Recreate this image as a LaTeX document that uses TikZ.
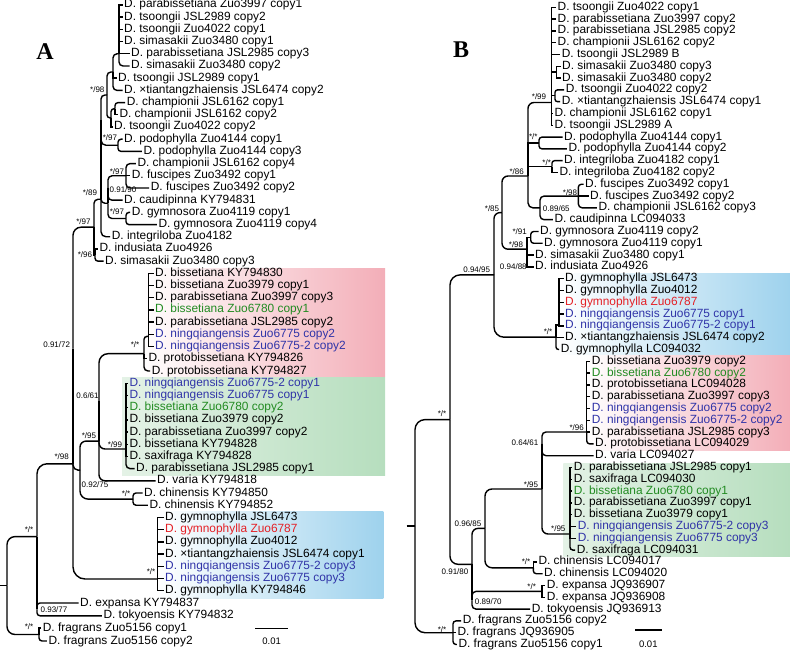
\documentclass[tikz,border=0pt]{standalone}
\usepackage{fontspec}
\setmainfont{Liberation Sans}
\newfontfamily\panelfont{Liberation Serif}
\usepackage{tikz}

\definecolor{ningblue}{RGB}{48,52,168}
\definecolor{bisgreen}{RGB}{34,139,34}
\definecolor{gymred}{RGB}{228,32,38}
\definecolor{boxred}{RGB}{243,174,184}
\definecolor{boxgreen}{RGB}{182,222,190}
\definecolor{boxgreenl}{RGB}{228,242,230}
\definecolor{boxblue}{RGB}{158,210,237}

\begin{document}
\begin{tikzpicture}[x=1pt, y=-1pt,
    leaf/.style={anchor=west, inner sep=1.5pt, text height=8.5pt, text depth=2.5pt, font=\fontsize{11.9}{12}\selectfont},
    supp/.style={inner sep=0pt, font=\fontsize{8}{9}\selectfont},
    br/.style={line width=1.4pt, rounded corners=#1}, br/.default=3pt,
    bz/.style={line width=1.4pt, sharp corners},
    panel/.style={font=\fontsize{24}{24}\panelfont\bfseries}]
    \useasboundingbox (0,0) rectangle (790,652);

    % clade boxes
    \shade[left color=white, right color=boxred] (140,268.3) rectangle (385,376.7);
    \shade[left color=boxgreenl, right color=boxgreen] (122,377.6) rectangle (385,475);
    \shade[left color=white, right color=boxblue] (157,511.7) rectangle (383.3,598.3);
    \shade[left color=white, right color=boxblue] (558,273.3) rectangle (790,354.6);
    \shade[left color=white, right color=boxred] (585,355.7) rectangle (790,450);
    \shade[left color=boxgreenl, right color=boxgreen] (563.3,463.3) rectangle (790,556.7);

    \node[panel] (labA) at (45,52) {A};
    \node[panel] (labB) at (461,50) {B};

    % Tree A - tips
    \node[leaf] (a1) at (122.5,5.0) {D. parabissetiana Zuo3997 copy1};
    \node[leaf] (a2) at (122.5,17.2) {D. tsoongii JSL2989 copy2};
    \node[leaf] (a3) at (122.5,29.4) {D. tsoongii Zuo4022 copy1};
    \node[leaf] (a4) at (122.5,41.6) {D. simasakii Zuo3480 copy1};
    \node[leaf] (a5) at (129.5,53.8) {D. parabissetiana JSL2985 copy3};
    \node[leaf] (a6) at (129.5,66.0) {D. simasakii Zuo3480 copy2};
    \node[leaf] (a7) at (116.5,78.2) {D. tsoongii JSL2989 copy1};
    \node[leaf] (a8) at (122.5,90.4) {D. ×tiantangzhaiensis JSL6474 copy2};
    \node[leaf] (a9) at (125.2,102.6) {D. championii JSL6162 copy1};
    \node[leaf] (a10) at (117.8,114.8) {D. championii JSL6162 copy2};
    \node[leaf] (a11) at (112.5,127.0) {D. tsoongii Zuo4022 copy2};
    \node[leaf] (a12) at (122.5,139.2) {D. podophylla Zuo4144 copy1};
    \node[leaf] (a13) at (141.8,151.4) {D. podophylla Zuo4144 copy3};
    \node[leaf] (a14) at (135.8,163.6) {D. championii JSL6162 copy4};
    \node[leaf] (a15) at (130.2,175.8) {D. fuscipes Zuo3492 copy1};
    \node[leaf] (a16) at (149.2,188.0) {D. fuscipes Zuo3492 copy2};
    \node[leaf] (a17) at (122.5,200.2) {D. caudipinna KY794831};
    \node[leaf] (a18) at (130.2,212.4) {D. gymnosora Zuo4119 copy1};
    \node[leaf] (a19) at (156.8,224.6) {D. gymnosora Zuo4119 copy4};
    \node[leaf] (a20) at (110.2,236.8) {D. integriloba Zuo4182};
    \node[leaf] (a21) at (97.8,249.0) {D. indusiata Zuo4926};
    \node[leaf] (a22) at (103.5,261.2) {D. simasakii Zuo3480 copy3};
    \node[leaf] (a23) at (153.5,273.4) {D. bissetiana KY794830};
    \node[leaf] (a24) at (153.5,285.6) {D. bissetiana Zuo3979 copy1};
    \node[leaf] (a25) at (153.5,297.8) {D. parabissetiana Zuo3997 copy3};
    \node[leaf, text=bisgreen] (a26) at (153.5,310.0) {D. bissetiana Zuo6780 copy1};
    \node[leaf] (a27) at (153.5,322.2) {D. parabissetiana JSL2985 copy2};
    \node[leaf, text=ningblue] (a28) at (153.5,334.4) {D. ningqiangensis Zuo6775 copy2};
    \node[leaf, text=ningblue] (a29) at (153.5,346.6) {D. ningqiangensis Zuo6775-2 copy2};
    \node[leaf] (a30) at (146.8,358.8) {D. protobissetiana KY794826};
    \node[leaf] (a31) at (150.2,371.0) {D. protobissetiana KY794827};
    \node[leaf, text=ningblue] (a32) at (127.8,383.2) {D. ningqiangensis Zuo6775-2 copy1};
    \node[leaf, text=ningblue] (a33) at (127.8,395.4) {D. ningqiangensis Zuo6775 copy1};
    \node[leaf, text=bisgreen] (a34) at (127.8,407.6) {D. bissetiana Zuo6780 copy2};
    \node[leaf] (a35) at (127.8,419.8) {D. bissetiana Zuo3979 copy2};
    \node[leaf] (a36) at (127.8,432.0) {D. parabissetiana Zuo3997 copy2};
    \node[leaf] (a37) at (127.8,444.2) {D. bissetiana KY794828};
    \node[leaf] (a38) at (127.8,456.4) {D. saxifraga KY794828};
    \node[leaf] (a39) at (134.5,468.6) {D. parabissetiana JSL2985 copy1};
    \node[leaf] (a40) at (155.5,480.8) {D. varia KY794818};
    \node[leaf] (a41) at (142.5,493.0) {D. chinensis KY794850};
    \node[leaf] (a42) at (147.8,505.2) {D. chinensis KY794852};
    \node[leaf] (a43) at (163.5,517.4) {D. gymnophylla JSL6473};
    \node[leaf, text=gymred] (a44) at (163.5,529.6) {D. gymnophylla Zuo6787};
    \node[leaf] (a45) at (163.5,541.8) {D. gymnophylla Zuo4012};
    \node[leaf] (a46) at (163.5,554.0) {D. ×tiantangzhaiensis JSL6474 copy1};
    \node[leaf, text=ningblue] (a47) at (163.5,566.2) {D. ningqiangensis Zuo6775-2 copy3};
    \node[leaf, text=ningblue] (a48) at (163.5,578.4) {D. ningqiangensis Zuo6775 copy3};
    \node[leaf] (a49) at (163.5,590.6) {D. gymnophylla KY794846};
    \node[leaf] (a50) at (78.5,603.0) {D. expansa KY794837};
    \node[leaf] (a51) at (101.8,615.8) {D. tokyoensis KY794832};
    \node[leaf] (a52) at (41.2,628.0) {D. fragrans Zuo5156 copy1};
    \node[leaf] (a53) at (46.8,641.0) {D. fragrans Zuo5156 copy2};

    % Tree A - inner nodes
    \coordinate (a-n1) at (119,53.8);
    \coordinate (a-n3) at (113,72);
    \coordinate (a-n4a) at (115,108.7);
    \coordinate (a-n4) at (111,117.9);
    \coordinate (a-n2) at (107,95);
    \coordinate (a-pod) at (118,145.3);
    \coordinate (a-n5) at (101,120.15);
    \coordinate (a-fus) at (126,175.8);
    \coordinate (a-cau) at (108,188);
    \coordinate (a-gym) at (126,218.5);
    \coordinate (a-n7) at (108,203.3);
    \coordinate (a-n6a) at (101,161.7);
    \coordinate (a-n6) at (101,199.3);
    \coordinate (a-ind) at (95,255.1);
    \coordinate (a-u) at (94,227.2);
    \coordinate (a-r0) at (148.3,336.4);
    \coordinate (a-red) at (144,353.7);
    \coordinate (a-gr0) at (126,429.4);
    \coordinate (a-grn) at (126,449);
    \coordinate (a-rg) at (99,401.4);
    \coordinate (a-x) at (99,441.1);
    \coordinate (a-chi) at (133,499.1);
    \coordinate (a-w) at (80,470.1);
    \coordinate (a-k) at (73,348.65);
    \coordinate (a-blu) at (157.5,579);
    \coordinate (a-m) at (73,463.8);
    \coordinate (a-exp) at (37,609.4);
    \coordinate (a-r1) at (37,536.6);
    \coordinate (a-fra) at (39,634.5);
    \coordinate (a-root) at (7,585.6);
    \coordinate (a-stem) at (0,585.6);

    % Tree A - branches
    \draw[bz] (a-n1) |- (a1.west);
    \draw[bz] (a-n1) |- (a2.west);
    \draw[bz] (a-n1) |- (a3.west);
    \draw[bz] (a-n1) |- (a4.west);
    \draw[bz] (a-n1) |- (a5.west);
    \draw[br=4pt] (a-n1) |- (a6.west);
    \draw[br=4pt] (a-n3) |- (a-n1);
    \draw[bz] (a-n3) |- (a7.west);
    \draw[br=4pt] (a-n3) |- (a8.west);
    \draw[br] (a-n4a) |- (a9.west);
    \draw[bz] (a-n4a) |- (a10.west);
    \draw[br] (a-n4) |- (a-n4a);
    \draw[bz] (a-n4) |- (a11.west);
    \draw[br=4pt] (a-n2) |- (a-n3);
    \draw[br] (a-n2) |- (a-n4);
    \draw[br] (a-pod) |- (a12.west);
    \draw[br] (a-pod) |- (a13.west);
    \draw[br=4pt] (a-n5) |- (a-n2);
    \draw[br=5pt] (a-n5) |- (a-pod);
    \draw[br=4pt] (a-fus) |- (a14.west);
    \draw[bz] (a-fus) |- (a15.west);
    \draw[br=4pt] (a-fus) |- (a16.west);
    \draw[br=4pt] (a-cau) |- (a-fus);
    \draw[br=4pt] (a-cau) |- (a17.west);
    \draw[br] (a-gym) |- (a18.west);
    \draw[br] (a-gym) |- (a19.west);
    \draw[bz] (a-n7) |- (a-cau);
    \draw[br=4pt] (a-n7) |- (a-gym);
    \draw[bz] (a-n6a) |- (a-n5);
    \draw[br=4pt] (a-n6a) |- (a-n7);
    \draw[bz] (a-n6) |- (a-n6a);
    \draw[br=5pt] (a-n6) |- (a20.west);
    \draw[bz] (a-ind) |- (a21.west);
    \draw[br] (a-ind) |- (a22.west);
    \draw[br=4pt] (a-u) |- (a-n6);
    \draw[bz] (a-u) |- (a-ind);
    \draw[bz] (a-r0) |- (a23.west);
    \draw[bz] (a-r0) |- (a24.west);
    \draw[bz] (a-r0) |- (a25.west);
    \draw[bz] (a-r0) |- (a26.west);
    \draw[bz] (a-r0) |- (a27.west);
    \draw[bz] (a-r0) |- (a28.west);
    \draw[bz] (a-r0) |- (a29.west);
    \draw[br] (a-red) |- (a-r0);
    \draw[bz] (a-red) |- (a30.west);
    \draw[br=4pt] (a-red) |- (a31.west);
    \draw[bz] (a-gr0) |- (a32.west);
    \draw[bz] (a-gr0) |- (a33.west);
    \draw[bz] (a-gr0) |- (a34.west);
    \draw[bz] (a-gr0) |- (a35.west);
    \draw[bz] (a-gr0) |- (a36.west);
    \draw[bz] (a-gr0) |- (a37.west);
    \draw[bz] (a-gr0) |- (a38.west);
    \draw[bz] (a-grn) |- (a-gr0);
    \draw[br=4pt] (a-grn) |- (a39.west);
    \draw[br=9pt] (a-rg) |- (a-red);
    \draw[br=6pt] (a-rg) |- (a-grn);
    \draw[bz] (a-x) |- (a-rg);
    \draw[br=6pt] (a-x) |- (a40.west);
    \draw[br] (a-chi) |- (a41.west);
    \draw[br] (a-chi) |- (a42.west);
    \draw[br=6pt] (a-w) |- (a-x);
    \draw[br=8pt] (a-w) |- (a-chi);
    \draw[br=8pt] (a-k) |- (a-u);
    \draw[br=5pt] (a-k) |- (a-w);
    \draw[bz] (a-blu) |- (a43.west);
    \draw[bz] (a-blu) |- (a44.west);
    \draw[bz] (a-blu) |- (a45.west);
    \draw[bz] (a-blu) |- (a46.west);
    \draw[bz] (a-blu) |- (a47.west);
    \draw[bz] (a-blu) |- (a48.west);
    \draw[bz] (a-blu) |- (a49.west);
    \draw[bz] (a-m) |- (a-k);
    \draw[br=12pt] (a-m) |- (a-blu);
    \draw[br] (a-exp) |- (a50.west);
    \draw[br] (a-exp) |- (a51.west);
    \draw[br=10pt] (a-r1) |- (a-m);
    \draw[bz] (a-r1) |- (a-exp);
    \draw[bz] (a-fra) |- (a52.west);
    \draw[br] (a-fra) |- (a53.west);
    \draw[br=8pt] (a-root) |- (a-r1);
    \draw[br=8pt] (a-root) |- (a-fra);
    \draw[bz] (a-stem) -- (a-root);

    % Tree A - support values
    \node[supp] (sa1) at (97.3,90) {*/98};
    \node[supp] (sa2) at (110,138) {*/97};
    \node[supp] (sa3) at (117,171.5) {*/97};
    \node[supp] (sa4) at (123,190) {0.91/90};
    \node[supp] (sa5) at (117,212) {*/97};
    \node[supp] (sa6) at (90,193) {*/89};
    \node[supp] (sa7) at (83.5,222) {*/97};
    \node[supp] (sa8) at (85,255) {*/96};
    \node[supp] (sa9) at (56.7,345) {0.91/72};
    \node[supp] (sa10) at (135,345) {*/*};
    \node[supp] (sa11) at (87.5,396) {0.6/61};
    \node[supp] (sa12) at (115,444.5) {*/99};
    \node[supp] (sa13) at (89,436) {*/95};
    \node[supp] (sa14) at (126,494) {*/*};
    \node[supp] (sa15) at (95,485) {0.92/75};
    \node[supp] (sa16) at (61.7,457) {*/98};
    \node[supp] (sa17) at (151,572) {*/*};
    \node[supp] (sa18) at (54,609.5) {0.93/77};
    \node[supp] (sa19) at (29,530) {*/*};
    \node[supp] (sa20) at (29,627) {*/*};

    % Tree A - scale
    \coordinate (sa-l) at (255,628.3);
    \coordinate (sa-r) at (288.3,628.3);
    \draw[bz] (sa-l) -- (sa-r);
    \node[font=\fontsize{9.5}{10}\selectfont] (sa-t) at (271.7,641.7) {0.01};

    % Tree B - tips
    \node[leaf] (b1) at (556,7.3) {D. tsoongii Zuo4022 copy1};
    \node[leaf] (b2) at (556,19.1) {D. parabissetiana Zuo3997 copy2};
    \node[leaf] (b3) at (556,30.9) {D. parabissetiana JSL2985 copy2};
    \node[leaf] (b4) at (556,42.7) {D. championii JSL6162 copy2};
    \node[leaf] (b5) at (560.2,54.5) {D. tsoongii JSL2989 B};
    \node[leaf] (b6) at (560.5,66.3) {D. simasakii Zuo3480 copy3};
    \node[leaf] (b7) at (560.5,78.1) {D. simasakii Zuo3480 copy2};
    \node[leaf] (b8) at (564.2,89.9) {D. tsoongii Zuo4022 copy2};
    \node[leaf] (b9) at (560.2,101.7) {D. ×tiantangzhaiensis JSL6474 copy1};
    \node[leaf] (b10) at (552.8,113.5) {D. championii JSL6162 copy1};
    \node[leaf] (b11) at (552.8,125.3) {D. tsoongii JSL2989 A};
    \node[leaf] (b12) at (562.5,137.1) {D. podophylla Zuo4144 copy1};
    \node[leaf] (b13) at (566.8,148.9) {D. podophylla Zuo4144 copy2};
    \node[leaf] (b14) at (562.5,160.7) {D. integriloba Zuo4182 copy1};
    \node[leaf] (b15) at (557.8,172.5) {D. integriloba Zuo4182 copy2};
    \node[leaf] (b16) at (583.5,184.3) {D. fuscipes Zuo3492 copy1};
    \node[leaf] (b17) at (588.5,196.1) {D. fuscipes Zuo3492 copy2};
    \node[leaf] (b18) at (596.8,207.9) {D. championii JSL6162 copy3};
    \node[leaf] (b19) at (552.8,219.7) {D. caudipinna LC094033};
    \node[leaf] (b20) at (538.5,231.5) {D. gymnosora Zuo4119 copy2};
    \node[leaf] (b21) at (542.5,243.3) {D. gymnosora Zuo4119 copy1};
    \node[leaf] (b22) at (533.5,255.1) {D. simasakii Zuo3480 copy1};
    \node[leaf] (b23) at (533.5,266.9) {D. indusiata Zuo4926};
    \node[leaf] (b24) at (563.5,278.7) {D. gymnophylla JSL6473};
    \node[leaf] (b25) at (563.5,290.5) {D. gymnophylla Zuo4012};
    \node[leaf, text=gymred] (b26) at (563.5,302.3) {D. gymnophylla Zuo6787};
    \node[leaf, text=ningblue] (b27) at (563.5,314.1) {D. ningqiangensis Zuo6775 copy1};
    \node[leaf, text=ningblue] (b28) at (563.5,325.9) {D. ningqiangensis Zuo6775-2 copy1};
    \node[leaf] (b29) at (563.5,337.7) {D. ×tiantangzhaiensis JSL6474 copy2};
    \node[leaf] (b30) at (559.2,349.5) {D. gymnophylla LC094032};
    \node[leaf] (b31) at (590.2,361.3) {D. bissetiana Zuo3979 copy2};
    \node[leaf, text=bisgreen] (b32) at (590.2,373.1) {D. bissetiana Zuo6780 copy2};
    \node[leaf] (b33) at (590.2,384.9) {D. protobissetiana LC094028};
    \node[leaf] (b34) at (590.2,396.7) {D. parabissetiana Zuo3997 copy3};
    \node[leaf, text=ningblue] (b35) at (590.2,408.5) {D. ningqiangensis Zuo6775 copy2};
    \node[leaf, text=ningblue] (b36) at (590.2,420.3) {D. ningqiangensis Zuo6775-2 copy2};
    \node[leaf] (b37) at (590.2,432.1) {D. parabissetiana JSL2985 copy3};
    \node[leaf] (b38) at (593.5,443.9) {D. protobissetiana LC094029};
    \node[leaf] (b39) at (593.5,455.7) {D. varia LC094027};
    \node[leaf] (b40) at (572.2,467.5) {D. parabissetiana JSL2985 copy1};
    \node[leaf] (b41) at (572.2,479.3) {D. saxifraga LC094030};
    \node[leaf, text=bisgreen] (b42) at (572.2,491.1) {D. bissetiana Zuo6780 copy1};
    \node[leaf] (b43) at (572.2,502.9) {D. parabissetiana Zuo3997 copy1};
    \node[leaf] (b44) at (572.2,514.7) {D. bissetiana Zuo3979 copy1};
    \node[leaf, text=ningblue] (b45) at (576.2,526.5) {D. ningqiangensis Zuo6775-2 copy3};
    \node[leaf, text=ningblue] (b46) at (576.2,538.3) {D. ningqiangensis Zuo6775 copy3};
    \node[leaf] (b47) at (575.2,550.1) {D. saxifraga LC094031};
    \node[leaf] (b48) at (536.8,561.9) {D. chinensis LC094017};
    \node[leaf] (b49) at (542.5,573.7) {D. chinensis LC094020};
    \node[leaf] (b50) at (545.2,585.5) {D. expansa JQ936907};
    \node[leaf] (b51) at (545.2,597.3) {D. expansa JQ936908};
    \node[leaf] (b52) at (530.2,609.1) {D. tokyoensis JQ936913};
    \node[leaf] (b53) at (461.2,620.9) {D. fragrans Zuo5156 copy2};
    \node[leaf] (b54) at (455.8,632.7) {D. fragrans JQ936905};
    \node[leaf] (b55) at (456.8,644.5) {D. fragrans Zuo5156 copy1};

    % Tree B - inner nodes
    \coordinate (b-t) at (551.5,102.5);
    \coordinate (b-t1) at (556.7,72.2);
    \coordinate (b-t2) at (555,95.8);
    \coordinate (b-pod) at (539,143);
    \coordinate (b-int) at (552,166.6);
    \coordinate (b-fus) at (578.3,196.1);
    \coordinate (b-cau) at (540,207.9);
    \coordinate (b-n1) at (528,176);
    \coordinate (b-gyo) at (530.7,237.4);
    \coordinate (b-si) at (527,261);
    \coordinate (b-gs) at (527,249.2);
    \coordinate (b-n2) at (502,212.6);
    \coordinate (b-g0) at (559,325);
    \coordinate (b-gym) at (556,337.2);
    \coordinate (b-up) at (494,274.9);
    \coordinate (b-bis) at (586.7,432);
    \coordinate (b-rv) at (542,443.85);
    \coordinate (b-sax) at (570,534);
    \coordinate (b-gx) at (542,489);
    \coordinate (b-chi) at (533.3,567.8);
    \coordinate (b-n3) at (485,528.4);
    \coordinate (b-exp) at (542,591.4);
    \coordinate (b-et) at (472,600.25);
    \coordinate (b-n4) at (472,564.3);
    \coordinate (b-n0) at (450,419.6);
    \coordinate (b-fra) at (453,632.7);
    \coordinate (b-root) at (415,526.15);
    \coordinate (b-stem) at (406.7,526.15);

    % Tree B - branches
    \draw[bz] (b-t) |- (b1.west);
    \draw[bz] (b-t) |- (b2.west);
    \draw[bz] (b-t) |- (b3.west);
    \draw[bz] (b-t) |- (b4.west);
    \draw[bz] (b-t) |- (b5.west);
    \draw[bz] (b-t) |- (b-t1);
    \draw[bz] (b-t1) |- (b6.west);
    \draw[bz] (b-t1) |- (b7.west);
    \draw[bz] (b-t) |- (b-t2);
    \draw[br=2.5pt] (b-t2) |- (b8.west);
    \draw[br=2.5pt] (b-t2) |- (b9.west);
    \draw[bz] (b-t) |- (b10.west);
    \draw[bz] (b-t) |- (b11.west);
    \draw[br] (b-pod) |- (b12.west);
    \draw[br] (b-pod) |- (b13.west);
    \draw[br=2.5pt] (b-int) |- (b14.west);
    \draw[bz] (b-int) |- (b15.west);
    \draw[br] (b-fus) |- (b16.west);
    \draw[bz] (b-fus) |- (b17.west);
    \draw[br=4pt] (b-fus) |- (b18.west);
    \draw[br=4pt] (b-cau) |- (b-fus);
    \draw[br=4pt] (b-cau) |- (b19.west);
    \draw[br=6pt] (b-n1) |- (b-t);
    \draw[bz] (b-n1) |- (b-pod);
    \draw[bz] (b-n1) |- (b-int);
    \draw[br=5pt] (b-n1) |- (b-cau);
    \draw[br] (b-gyo) |- (b20.west);
    \draw[br] (b-gyo) |- (b21.west);
    \draw[bz] (b-si) |- (b22.west);
    \draw[bz] (b-si) |- (b23.west);
    \draw[bz] (b-gs) |- (b-gyo);
    \draw[bz] (b-gs) |- (b-si);
    \draw[br=6pt] (b-n2) |- (b-n1);
    \draw[br=6pt] (b-n2) |- (b-gs);
    \draw[bz] (b-g0) |- (b24.west);
    \draw[bz] (b-g0) |- (b25.west);
    \draw[bz] (b-g0) |- (b26.west);
    \draw[bz] (b-g0) |- (b27.west);
    \draw[bz] (b-g0) |- (b28.west);
    \draw[bz] (b-gym) |- (b-g0);
    \draw[bz] (b-gym) |- (b29.west);
    \draw[br=2.5pt] (b-gym) |- (b30.west);
    \draw[br=6pt] (b-up) |- (b-n2);
    \draw[br=10pt] (b-up) |- (b-gym);
    \draw[bz] (b-bis) |- (b31.west);
    \draw[bz] (b-bis) |- (b32.west);
    \draw[bz] (b-bis) |- (b33.west);
    \draw[bz] (b-bis) |- (b34.west);
    \draw[bz] (b-bis) |- (b35.west);
    \draw[bz] (b-bis) |- (b36.west);
    \draw[bz] (b-bis) |- (b37.west);
    \draw[br] (b-bis) |- (b38.west);
    \draw[br=4pt] (b-rv) |- (b-bis);
    \draw[br=4pt] (b-rv) |- (b39.west);
    \draw[bz] (b-sax) |- (b40.west);
    \draw[bz] (b-sax) |- (b41.west);
    \draw[bz] (b-sax) |- (b42.west);
    \draw[bz] (b-sax) |- (b43.west);
    \draw[bz] (b-sax) |- (b44.west);
    \draw[bz] (b-sax) |- (b45.west);
    \draw[bz] (b-sax) |- (b46.west);
    \draw[br] (b-sax) |- (b47.west);
    \draw[bz] (b-gx) |- (b-rv);
    \draw[br=6pt] (b-gx) |- (b-sax);
    \draw[bz] (b-chi) |- (b48.west);
    \draw[br] (b-chi) |- (b49.west);
    \draw[br=7pt] (b-n3) |- (b-gx);
    \draw[br=7pt] (b-n3) |- (b-chi);
    \draw[bz] (b-exp) |- (b50.west);
    \draw[bz] (b-exp) |- (b51.west);
    \draw[br=4pt] (b-et) |- (b-exp);
    \draw[br=4pt] (b-et) |- (b52.west);
    \draw[br=6pt] (b-n4) |- (b-n3);
    \draw[bz] (b-n4) |- (b-et);
    \draw[br=10pt] (b-n0) |- (b-up);
    \draw[br=8pt] (b-n0) |- (b-n4);
    \draw[br] (b-fra) |- (b53.west);
    \draw[bz] (b-fra) |- (b54.west);
    \draw[br] (b-fra) |- (b55.west);
    \draw[br=10pt] (b-root) |- (b-n0);
    \draw[br=10pt] (b-root) |- (b-fra);
    \draw[bz] (b-stem) -- (b-root);

    % Tree B - support values
    \node[supp] (sb1) at (539,96.5) {*/99};
    \node[supp] (sb2) at (533.3,137) {*/*};
    \node[supp] (sb3) at (546.7,162.5) {*/*};
    \node[supp] (sb4) at (570,193) {*/98};
    \node[supp] (sb5) at (556.3,209) {0.89/65};
    \node[supp] (sb6) at (516.7,171.5) {*/86};
    \node[supp] (sb7) at (519.7,231.7) {*/91};
    \node[supp] (sb8) at (516,244.5) {*/98};
    \node[supp] (sb9) at (513.3,267) {0.94/88};
    \node[supp] (sb10) at (492,208.3) {*/85};
    \node[supp] (sb11) at (476.7,269.3) {0.94/95};
    \node[supp] (sb12) at (548,332) {*/*};
    \node[supp] (sb13) at (576.7,428) {*/96};
    \node[supp] (sb14) at (525,442.3) {0.64/61};
    \node[supp] (sb15) at (531,485) {*/95};
    \node[supp] (sb16) at (558.3,529) {*/95};
    \node[supp] (sb17) at (526,562) {*/*};
    \node[supp] (sb18) at (468,523.5) {0.96/85};
    \node[supp] (sb19) at (531.7,587) {*/*};
    \node[supp] (sb20) at (488.3,601.7) {0.89/70};
    \node[supp] (sb21) at (455,571.3) {0.91/80};
    \node[supp] (sb22) at (442,413.7) {*/*};
    \node[supp] (sb23) at (442,630) {*/*};

    % Tree B - scale
    \coordinate (sb-l) at (635,630);
    \coordinate (sb-r) at (661.7,630);
    \draw[bz] (sb-l) -- (sb-r);
    \node[font=\fontsize{9.5}{10}\selectfont] (sb-t) at (648.3,644) {0.01};
\end{tikzpicture}
\end{document}
